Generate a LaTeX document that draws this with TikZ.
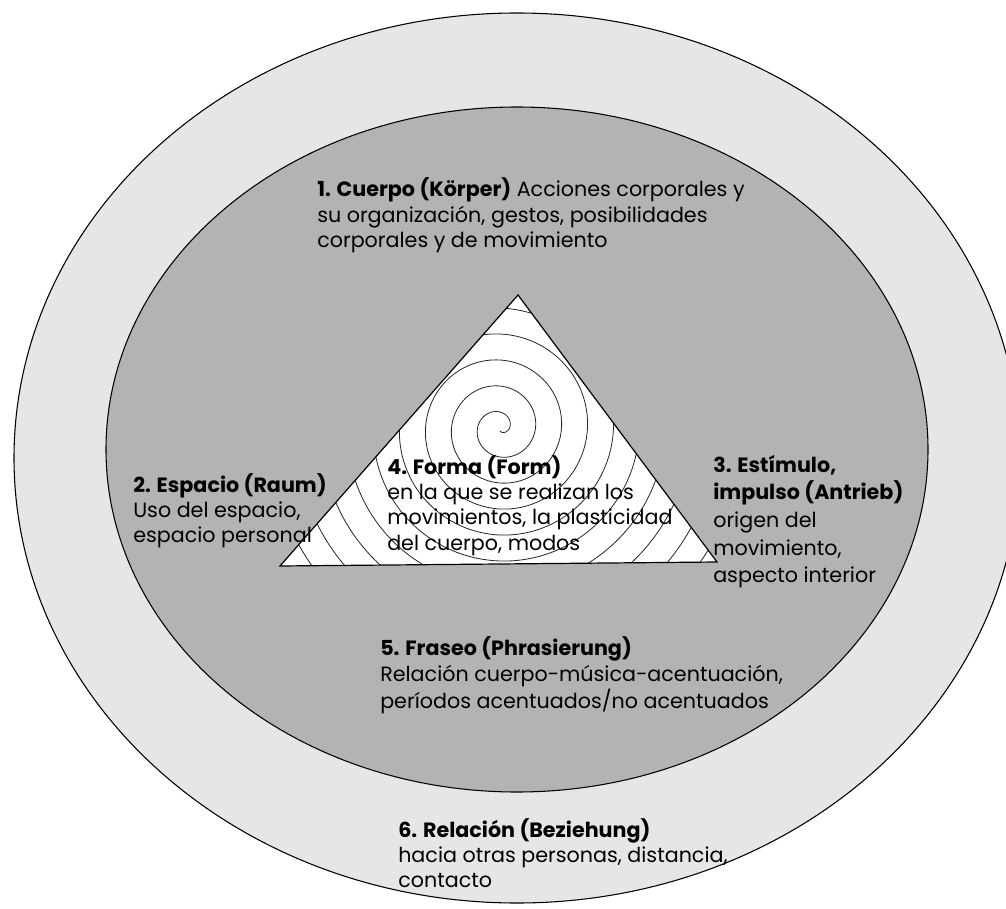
\documentclass[tikz,border=0pt]{standalone}
\usepackage{fontspec}
\setmainfont{Poppins}
\definecolor{outerfill}{HTML}{E6E6E6}
\definecolor{innerfill}{HTML}{B3B3B3}
\tikzset{
  ring/.style={draw=black, line width=0.8pt},
  spiralline/.style={draw=black!85, line width=0.6pt},
  tri/.style={draw=black, line width=0.9pt},
  txt/.style={anchor=base west, inner sep=0pt, font=\fontsize{15.5pt}{19pt}\selectfont, text=black}
}
\begin{document}
\begin{tikzpicture}[x=0.75pt, y=-0.75pt]
\useasboundingbox (0,0) rectangle (1006,909);
\clip (0,0) rectangle (1006,909);
\fill[white] (0,0) rectangle (1006,909);
% rings
\coordinate (C) at (517,458);
\coordinate (Ci) at (517,449.5);
\path[ring, fill=outerfill] (C) ellipse [x radius=377.25pt, y radius=333.75pt];
\path[ring, fill=innerfill] (Ci) ellipse [x radius=308.25pt, y radius=256.875pt];
% triangle
\coordinate (A) at (518,295);
\coordinate (B) at (280,566);
\coordinate (D) at (717,562);
\fill[white] (A) -- (B) -- (D) -- cycle;
\begin{scope}
  \clip (A) -- (B) -- (D) -- cycle;
  \draw[spiralline] plot[domain=0:3780, samples=700, smooth]
    ({500+(3+\x/360*26)*cos(-90+\x)}, {428-(3+\x/360*26)*sin(-90+\x)});
\end{scope}
\draw[tri, line join=miter] (A) -- (B) -- (D) -- cycle;
% texts
\node[txt] (t1) at (317,197) {\vtop{\baselineskip=19.1pt
  \hbox{\textbf{1. Cuerpo (Körper)} Acciones corporales y}
  \hbox{su organización, gestos, posibilidades}
  \hbox{corporales y de movimiento}}};
\node[txt] (t2) at (133,492) {\vtop{\baselineskip=18.75pt
  \hbox{\textbf{2. Espacio (Raum)}}
  \hbox{Uso del espacio,}
  \hbox{espacio personal}}};
\node[txt] (t4) at (387,474) {\vtop{\baselineskip=19.1pt
  \hbox{\textbf{4. Forma (Form)}}
  \hbox{en la que se realizan los}
  \hbox{movimientos, la plasticidad}
  \hbox{del cuerpo, modos}}};
\node[txt] (t3) at (713,472) {\vtop{\baselineskip=20.8pt
  \hbox{\textbf{3. Estímulo,}}
  \hbox{\textbf{impulso (Antrieb)}}
  \hbox{origen del}
  \hbox{movimiento,}
  \hbox{aspecto interior}}};
\node[txt] (t5) at (380,655) {\vtop{\baselineskip=19.9pt
  \hbox{\textbf{5. Fraseo (Phrasierung)}}
  \hbox{Relación cuerpo-música-acentuación,}
  \hbox{períodos acentuados/no acentuados}}};
\node[txt] (t6) at (398,837) {\vtop{\baselineskip=19.1pt
  \hbox{\textbf{6. Relación (Beziehung)}}
  \hbox{hacia otras personas, distancia,}
  \hbox{contacto}}};
\end{tikzpicture}
\end{document}
